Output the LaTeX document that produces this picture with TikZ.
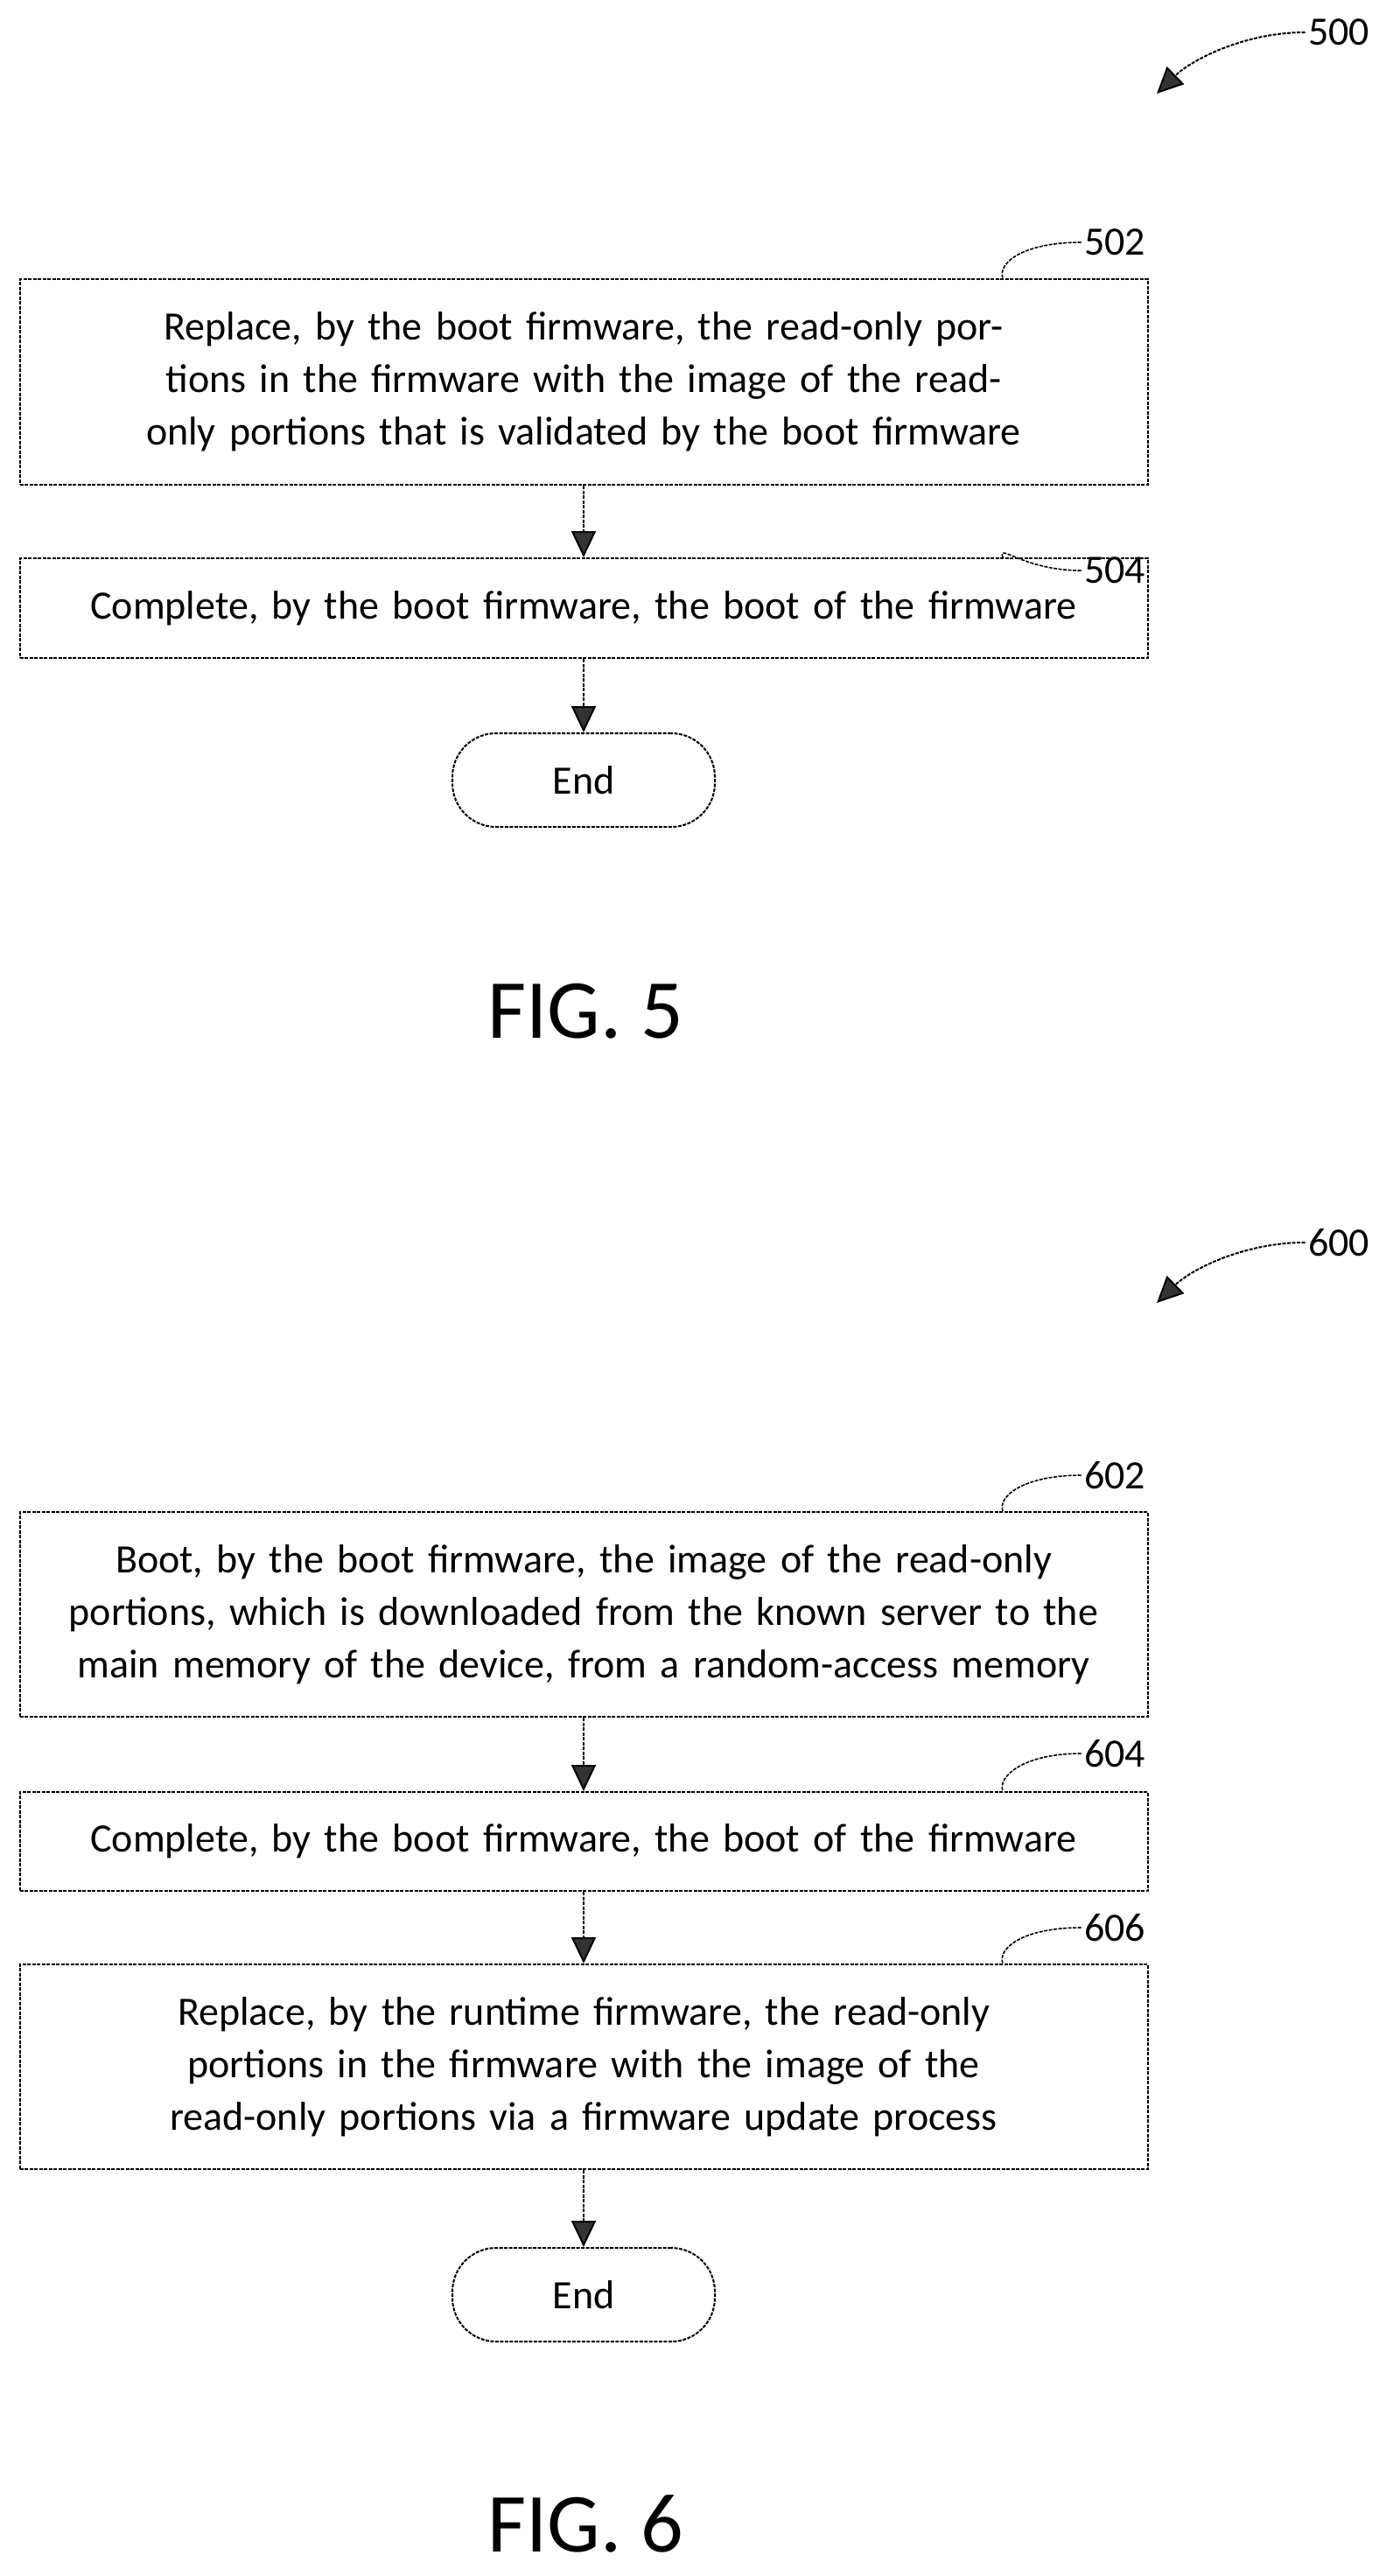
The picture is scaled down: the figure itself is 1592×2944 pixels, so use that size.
\documentclass[tikz,border=0pt]{standalone}
\usepackage{fontspec}
\setmainfont{Carlito}
\usetikzlibrary{arrows.meta}
\begin{document}
\begin{tikzpicture}[x=1pt,y=-1pt,
  dl/.style={line width=2pt,dash pattern=on 4pt off 1.5pt},
  box/.style={draw,dl,minimum width=1289pt,text width=1220pt,align=center,anchor=north,inner sep=0pt,font=\fontsize{46}{60}\selectfont},
  term/.style={draw,dl,rounded corners=50pt,minimum width=300pt,minimum height=107pt,anchor=north,font=\fontsize{46}{56}\selectfont},
  lab/.style={font=\fontsize{46}{56}\selectfont},
  fig/.style={font=\fontsize{96}{110}\selectfont},
  arr/.style={dl,-{Triangle[width=28pt,length=30pt,fill=black!80]}},
  lead/.style={dl,line width=1.6pt}]
\useasboundingbox (0,0) rectangle (1592,2944);
% FIG 5
\node[lab] (n500) at (1530,37) {500};
\coordinate (t500) at (1322,107);
\draw[arr] (n500.west) .. controls (1420,37) and (1360,70) .. (t500);
\node[box,minimum height=235pt] (b502) at (667,318) {Replace, by the boot firmware, the read-only portions in the firmware with the image of the read-only portions that is validated by the boot firmware};
\node[box,minimum height=114pt] (b504) at (667,637) {Complete, by the boot firmware, the boot of the firmware};
\node[term] (e5) at (667,837) {End};
\node[fig] (f5) at (669,1156) {FIG. 5};
\node[lab] (n502) at (1274,277) {502};
\node[lab] (n504) at (1274,652) {504};
\draw[lead] (n502.west) .. controls (1170,277) and (1140,300) .. (b502.north -| 1146,0);
\draw[lead] (n504.west) .. controls (1170,652) and (1140,620) .. (b504.north -| 1146,0);
\draw[arr] (b502) -- (b504);
\draw[arr] (b504) -- (e5);
% FIG 6
\node[lab] (n600) at (1530,1420) {600};
\coordinate (t600) at (1322,1489);
\draw[arr] (n600.west) .. controls (1420,1420) and (1360,1452) .. (t600);
\node[box,minimum height=234pt] (b602) at (667,1727) {Boot, by the boot firmware, the image of the read-only portions, which is downloaded from the known server to the main memory of the device, from a random-access memory};
\node[box,minimum height=113pt] (b604) at (667,2047) {Complete, by the boot firmware, the boot of the firmware};
\node[box,minimum height=234pt] (b606) at (667,2244) {Replace, by the runtime firmware, the read-only portions in the firmware with the image of the read-only portions via a firmware update process};
\node[term] (e6) at (667,2568) {End};
\node[fig] (f6) at (669,2884) {FIG. 6};
\node[lab] (n602) at (1274,1686) {602};
\node[lab] (n604) at (1274,2004) {604};
\node[lab] (n606) at (1274,2203) {606};
\draw[lead] (n602.west) .. controls (1170,1686) and (1140,1710) .. (b602.north -| 1146,0);
\draw[lead] (n604.west) .. controls (1170,2004) and (1140,2030) .. (b604.north -| 1146,0);
\draw[lead] (n606.west) .. controls (1170,2203) and (1140,2226) .. (b606.north -| 1146,0);
\draw[arr] (b602) -- (b604);
\draw[arr] (b604) -- (b606);
\draw[arr] (b606) -- (e6);
\end{tikzpicture}
\end{document}
